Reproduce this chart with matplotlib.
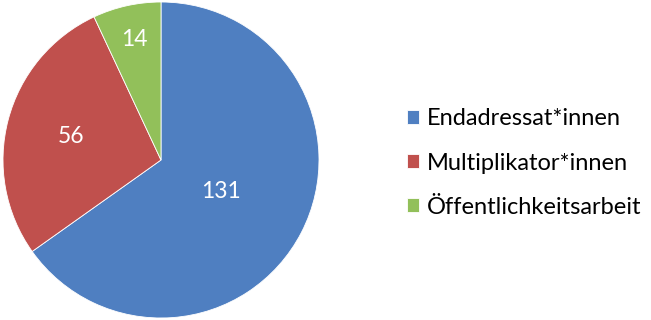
import numpy as np
import matplotlib.pyplot as plt

# data
labels = ["Endadressat*innen", "Multiplikator*innen", "Öffentlichkeitsarbeit"]
values = [131, 56, 14]
colors = ["#4F7FC1", "#C0504D", "#92C05A"]
label_dist = [0.43, 0.59, 0.78]   # where excel put the numbers

plt.rcParams['font.family'] = ['Lato', 'DejaVu Sans']

fig = plt.figure(figsize=(6.51, 3.2), dpi=100)
ax = fig.add_axes([3 / 651, 2 / 320, 316 / 651, 316 / 320])

wedges, _ = ax.pie(values, colors=colors, startangle=90, counterclock=False,
                   wedgeprops=dict(edgecolor="white", linewidth=0.6))

for w, v, d in zip(wedges, values, label_dist):
    ang = np.deg2rad((w.theta1 + w.theta2) / 2)
    ax.text(d * np.cos(ang), d * np.sin(ang), str(v), color="white",
            fontsize=16.5, ha="center", va="center")

ax.set_xlim(-1, 1)
ax.set_ylim(-1, 1)
ax.set_aspect("equal")

fig.legend(wedges, labels, loc="center left", bbox_to_anchor=(407 / 651, 157 / 320),
           frameon=False, fontsize=17, handlelength=0.52, handleheight=0.52,
           handletextpad=0.34, labelspacing=0.98, borderpad=0, borderaxespad=0)

fig.savefig("out.png", dpi=100)
